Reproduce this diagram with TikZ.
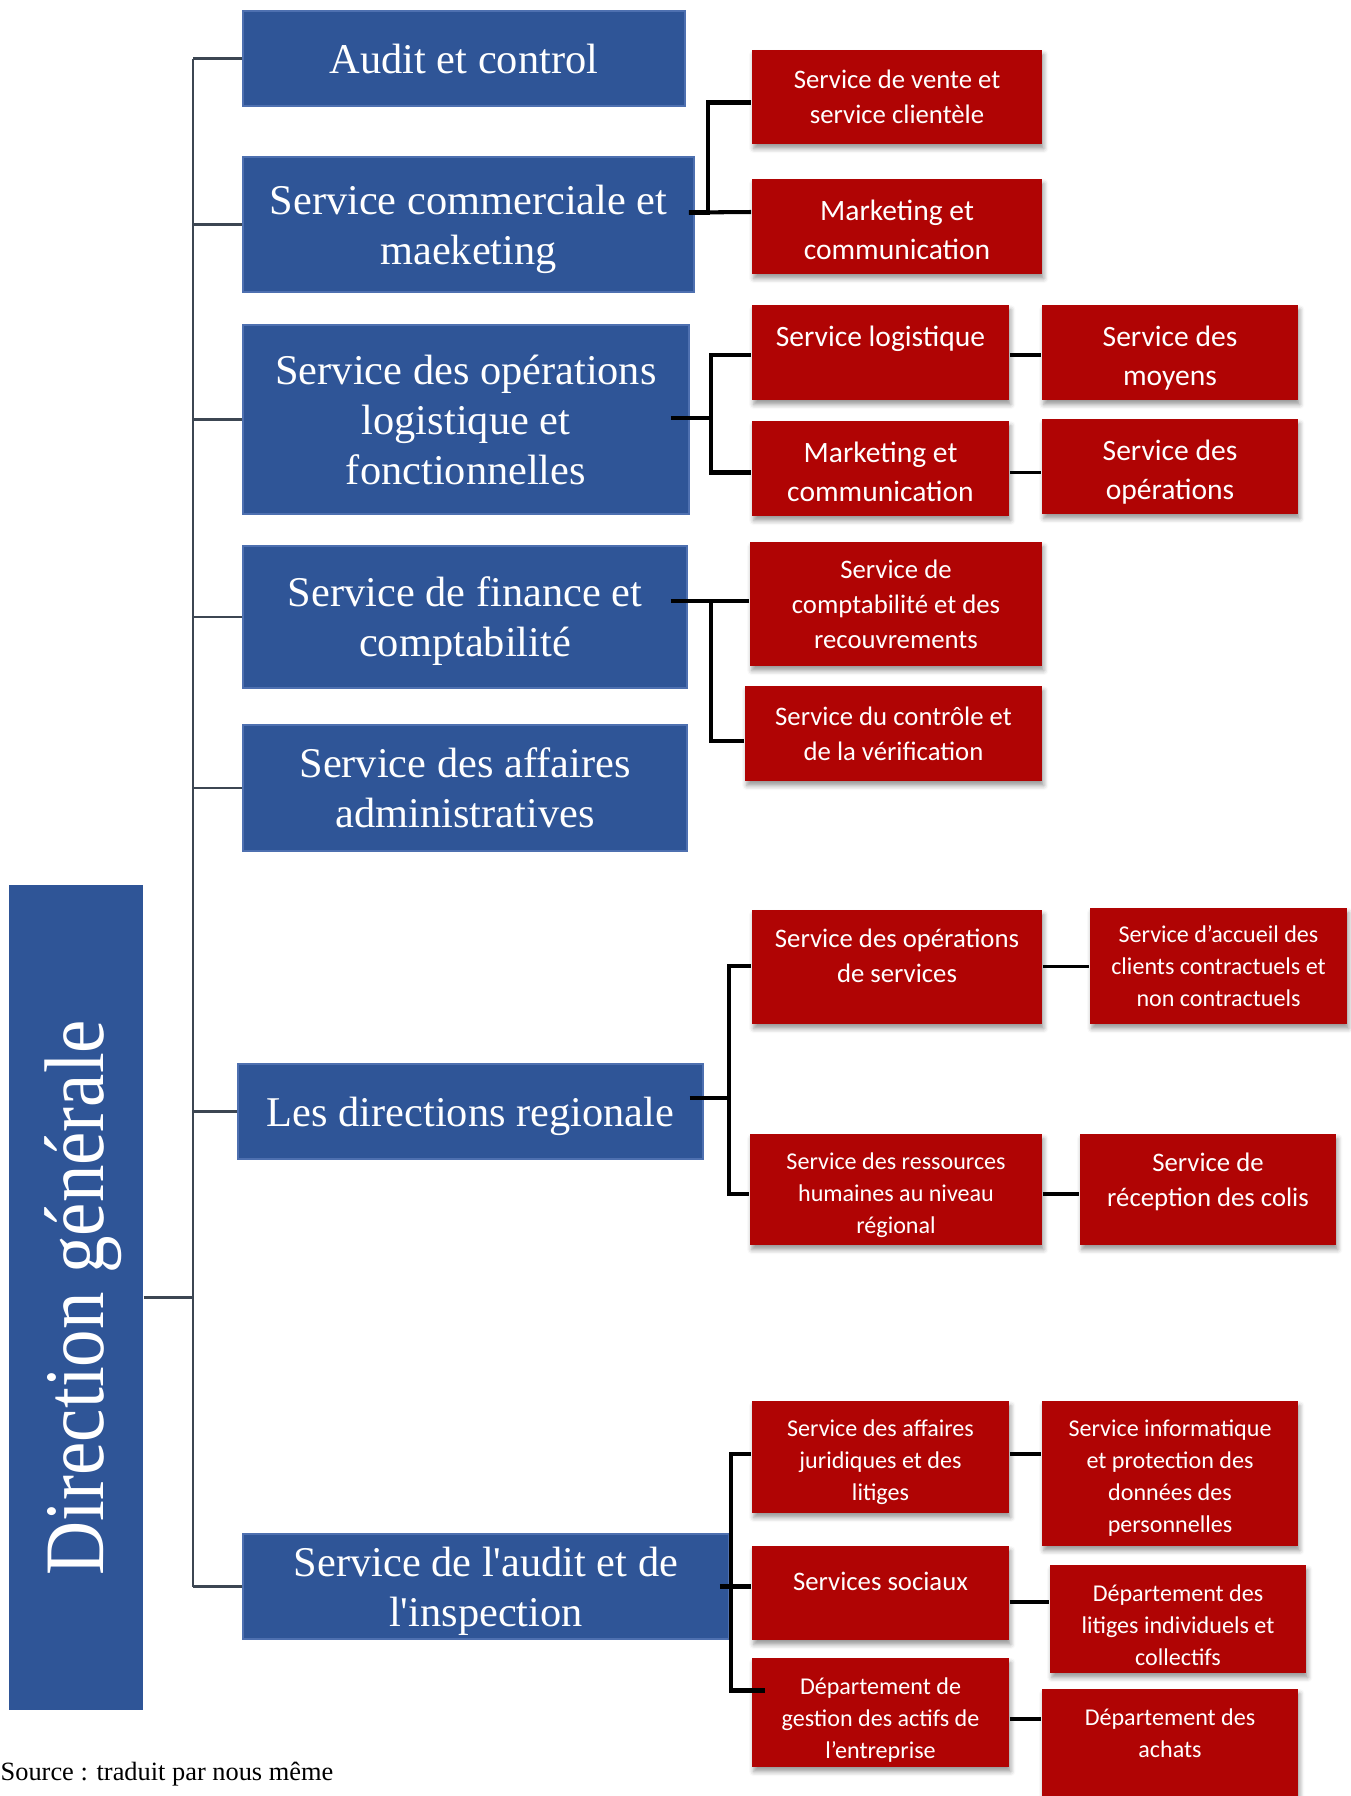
\documentclass[tikz,border=0pt]{standalone}
\usepackage{fontspec}
\setmainfont{Liberation Serif}
\newfontfamily\calibri{Carlito}
\newfontfamily\rawserif{Liberation Serif}
\usetikzlibrary{calc,shadows.blur}
\definecolor{boxblue}{RGB}{47,85,151}
\definecolor{edgeblue}{RGB}{78,112,176}
\definecolor{boxred}{RGB}{176,4,4}
\definecolor{trunkgray}{RGB}{60,70,82}
\newcommand\sq{{\rawserif'}}
\newcommand\padtop[1]{~\\[#1]}

\begin{document}
\begin{tikzpicture}[
    x=0.01cm, y=-0.01cm,
    wh/.style 2 args={minimum width=#1cm, minimum height=#2cm},
    bluebox/.style={rectangle, fill=boxblue, draw=edgeblue, line width=0.4pt, text=white, align=center, inner sep=0pt, text depth=0pt, font=\fontsize{12.05pt}{14.2pt}\selectfont},
    redbox/.style={rectangle, fill=boxred, text=white, align=center, inner sep=0pt, text depth=0pt, font=\calibri\fontsize{7.6pt}{9.9pt}\selectfont, blur shadow={shadow xshift=0.5pt, shadow yshift=-1.3pt, shadow blur radius=1.3pt, shadow opacity=40}},
    bigred/.style={redbox, font=\calibri\fontsize{8.4pt}{11.3pt}\selectfont},
    smallred/.style={redbox, font=\calibri\fontsize{6.85pt}{9.1pt}\selectfont},
    trunk/.style={draw=trunkgray, line width=0.75pt},
    link/.style={draw=black, line width=1.15pt},
    tie/.style={draw=black, line width=0.9pt}
]
    \useasboundingbox (0,0) rectangle (1350,1796);

    \node[rectangle, fill=boxblue, inner sep=0pt, wh={1.34}{8.25}] (dg) at (76,1297.5) {};
    \node[rotate=90, text=white, inner sep=0pt, font=\fontsize{21.3pt}{24pt}\selectfont] (dgt) at (83,1297.5) {\scalebox{1}[1.13]{Direction générale}};

    \node[bluebox, wh={4.42}{0.95}] (s1) at (464,58.5) {Audit et control};
    \node[bluebox, wh={4.51}{1.35}] (s2) at (468.5,224.5) {Service commerciale et\\maeketing};
    \node[bluebox, wh={4.46}{1.89}] (s3) at (466,419.5) {Service des opérations\\logistique et\\fonctionnelles};
    \node[bluebox, wh={4.44}{1.42}] (s4) at (465,617) {Service de finance et\\comptabilité};
    \node[bluebox, wh={4.44}{1.26}] (s5) at (465,788) {Service des affaires\\administratives};
    \node[bluebox, wh={4.65}{0.95}] (s6) at (470.5,1111.5) {Les directions regionale};
    \node[bluebox, wh={4.86}{1.05}] (s7) at (486,1586.5) {Service de l\sq audit et de\\l\sq inspection};

    \node[redbox, wh={2.90}{0.94}] (r1) at (897,97) {Service de vente et\\service clientèle};
    \node[bigred, wh={2.90}{0.95}] (r2) at (897,226.5) {\padtop{-3.7pt}Marketing et\\communication};
    \node[bigred, wh={2.57}{0.95}] (r3) at (880.5,352.5) {\padtop{-3.7pt}Service logistique\\~};
    \node[bigred, wh={2.56}{0.95}] (r4) at (1170,352.5) {\padtop{-3.7pt}Service des\\moyens};
    \node[bigred, wh={2.57}{0.95}] (r5) at (880.5,468.5) {\padtop{-3.7pt}Marketing et\\communication};
    \node[bigred, wh={2.56}{0.95}] (r6) at (1170,466.5) {\padtop{-3.7pt}Service des\\opérations};
    \node[redbox, wh={2.92}{1.24}] (r7) at (896,604) {Service de\\comptabilité et des\\recouvrements};
    \node[redbox, wh={2.97}{0.95}] (r8) at (893.5,733.5) {Service du contrôle et\\de la vérification};
    \node[redbox, wh={2.90}{1.14}] (r9) at (897,967) {Service des opérations\\de services\\[-3.4pt]~};
    \node[smallred, wh={2.57}{1.16}] (r10) at (1218.5,966) {Service d’accueil des\\clients contractuels et\\non contractuels};
    \node[smallred, wh={2.92}{1.11}] (r11) at (896,1189.5) {\padtop{-2.4pt}Service des ressources\\humaines au niveau\\régional};
    \node[redbox, wh={2.56}{1.11}] (r12) at (1208,1189.5) {Service de\\réception des colis\\[-4.5pt]~};
    \node[smallred, wh={2.57}{1.12}] (r13) at (880.5,1457) {\padtop{-2.4pt}Service des affaires\\juridiques et des\\litiges};
    \node[smallred, wh={2.56}{1.45}] (r14) at (1170,1473.5) {\padtop{-2.6pt}Service informatique\\et protection des\\données des\\personnelles};
    \node[redbox, wh={2.57}{0.94}] (r15) at (880.5,1593) {Services sociaux\\[-3.1pt]~};
    \node[smallred, wh={2.56}{1.08}] (r16) at (1178,1619) {\padtop{-1.0pt}Département des\\litiges individuels et\\collectifs};
    \node[smallred, wh={2.57}{1.09}] (r17) at (880.5,1712.5) {\padtop{-1.3pt}Département de\\gestion des actifs de\\l’entreprise};
    \node[smallred, wh={2.56}{1.11}] (r18) at (1170,1744.5) {Département des\\achats\\[-2.6pt]~};

    \node[anchor=west, inner sep=0pt, font=\fontsize{7.5pt}{9pt}\selectfont] (src) at (0,1774) {Source : traduit par nous même};

    \coordinate (trk) at (193,0);
    \draw[trunk] (s1.west -| trk) -- (s7.west -| trk);
    \foreach \b in {s1,s2,s3,s4,s5,s6,s7}
        \draw[trunk] (\b.west) -- (\b.west -| trk);
    \draw[trunk] (dg.east) -- (dg.east -| trk);

    \draw[link] ($(s2.east)+(-6,-12)$) -- ++(19,0) |- ($(r1.west)+(0,5.5)$);
    \draw[link] ($(s2.east)+(-6,-12)$) -- ($(r2.west)+(0,-14.5)$);

    \draw[link] ($(s3.east)+(-19,-1.5)$) -- ++(40,0) |- ($(r3.west)+(0,2.5)$);
    \draw[link] ($(s3.east)+(-19,-1.5)$) -- ++(40,0) |- ($(r5.west)+(0,4)$);
    \draw[tie] ($(r3.east)+(0,2.5)$) -- ($(r4.west)+(0,2.5)$);
    \draw[tie] ($(r5.east)+(0,4)$) -- ($(r6.west)+(0,6)$);

    \draw[link] ($(s4.east)+(-17,-16)$) -- ($(r7.west)+(0,-3)$);
    \draw[link] ($(s4.east)+(-17,-16)$) -- ++(40,0) |- ($(r8.west)+(0,7.5)$);

    \draw[link] ($(s6.east)+(-14,-13.5)$) -- ++(39,0) |- ($(r9.west)+(0,-1)$);
    \draw[link] ($(s6.east)+(-14,-13.5)$) -- ++(39,0) |- ($(r11.west)+(0,4.5)$);
    \draw[tie] ($(r9.east)+(0,-0.5)$) -- ($(r10.west)+(0,0.5)$);
    \draw[tie] ($(r11.east)+(0,4.5)$) -- ($(r12.west)+(0,4.5)$);

    \draw[link] ($(s7.east)+(-10,0)$) -- ($(r15.west)+(0,-6.5)$);
    \draw[link] ($(s7.east)+(1.5,0)$) |- ($(r13.west)+(0,-3)$);
    \draw[link] ($(s7.east)+(1.5,0)$) |- ($(r17.west)+(14,-22)$);
    \draw[tie] ($(r13.east)+(0,-3)$) -- ($(r14.west)+(0,-19.5)$);
    \draw[tie] ($(r15.east)+(0,9)$) -- ($(r16.west)+(0,-17)$);
    \draw[tie] ($(r17.east)+(0,6.5)$) -- ($(r18.west)+(0,-25.5)$);
\end{tikzpicture}
\end{document}
